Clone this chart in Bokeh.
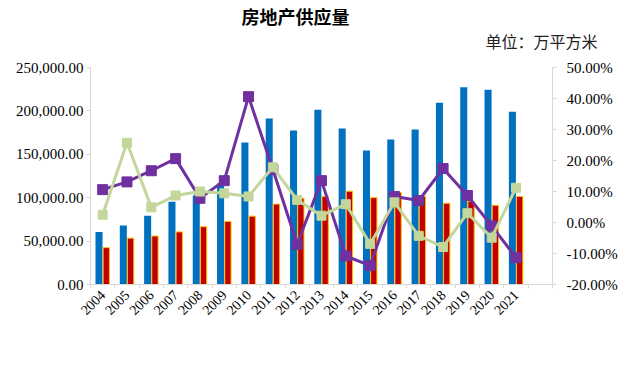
import math
from bokeh.plotting import figure
from bokeh.models import (Range1d, LinearAxis, FixedTicker, NumeralTickFormatter,
                          PrintfTickFormatter, ColumnDataSource, Legend, LegendItem, Title)
from bokeh.embed import file_html
from bokeh.resources import INLINE

years = ["2004", "2005", "2006", "2007", "2008", "2009", "2010", "2011", "2012",
         "2013", "2014", "2015", "2016", "2017", "2018", "2019", "2020", "2021"]
new_area = [60414, 68064, 79253, 95402, 102553, 116422, 163647, 191237, 177334,
            201208, 179592, 154454, 166928, 178654, 209342, 227154, 224433, 198895]
done_area = [42465, 53417, 55831, 60607, 66545, 72677, 78744, 92620, 99425,
             101435, 107459, 100039, 106128, 101486, 93550, 95942, 91218, 101412]
new_growth = [10.6, 13.1, 16.7, 20.6, 7.8, 13.5, 40.6, 17.1, -7.0,
              13.5, -10.8, -13.9, 8.4, 7.1, 17.4, 8.7, -1.1, -11.3]
done_growth = [2.5, 25.7, 4.9, 8.7, 10.0, 9.4, 8.4, 17.8, 7.3,
               2.2, 5.9, -6.9, 6.5, -4.3, -7.9, 3.0, -4.9, 11.2]
left_ticks = [0, 50000, 100000, 150000, 200000, 250000]
right_ticks = [-20, -10, 0, 10, 20, 30, 40, 50]

n_slots = len(years) + 1
centers = [i + 0.5 for i in range(len(years))]

src = ColumnDataSource(dict(
    xb=[c - 0.15 for c in centers], xr=[c + 0.15 for c in centers], xc=centers,
    new_area=new_area, done_area=done_area, new_growth=new_growth, done_growth=done_growth))

AX = "#D9D9D9"
NUM_FONT = "Liberation Serif"
CJK = "Noto Sans CJK SC"
BLUE, RED, GOLD, PURPLE, GREEN = "#0070C0", "#C00000", "#FFC000", "#7030A0", "#C3D69B"

p = figure(frame_width=462, frame_height=217, output_backend="svg", toolbar_location=None,
           x_range=Range1d(0, n_slots), y_range=Range1d(left_ticks[0], left_ticks[-1]),
           min_border_left=90, min_border_right=72, min_border_top=67, min_border_bottom=81)
p.outline_line_color = None
p.grid.visible = False
p.background_fill_color = "white"
p.border_fill_color = "white"

p.extra_y_ranges = {"pct": Range1d(right_ticks[0], right_ticks[-1])}

# axes
xa = p.xaxis[0]
xa.ticker = FixedTicker(ticks=centers, minor_ticks=list(range(n_slots + 1)))
xa.major_label_overrides = {c: y for c, y in zip(centers, years)}
xa.major_label_orientation = math.pi / 4
xa.major_tick_out = 0
xa.major_tick_in = 0
xa.minor_tick_out = 4
xa.minor_tick_in = 0
xa.minor_tick_line_color = AX
xa.axis_line_color = AX
xa.major_label_text_font = NUM_FONT
xa.major_label_text_font_size = "14px"
xa.major_label_text_color = "black"
xa.major_label_standoff = 4

ya = p.yaxis[0]
ya.ticker = FixedTicker(ticks=left_ticks)
ya.formatter = NumeralTickFormatter(format="0,0.00")
ya.axis_line_color = AX
ya.major_tick_line_color = AX
ya.major_tick_out = 4
ya.major_tick_in = 0
ya.minor_tick_line_color = None
ya.major_label_text_font = NUM_FONT
ya.major_label_text_font_size = "15px"
ya.major_label_text_color = "black"
ya.major_label_standoff = 3

ra = LinearAxis(y_range_name="pct", ticker=FixedTicker(ticks=right_ticks),
                formatter=PrintfTickFormatter(format="%.2f%%"))
ra.axis_line_color = AX
ra.major_tick_line_color = AX
ra.major_tick_out = 4
ra.major_tick_in = 0
ra.minor_tick_line_color = None
ra.major_label_text_font = NUM_FONT
ra.major_label_text_font_size = "15px"
ra.major_label_text_color = "black"
ra.major_label_standoff = 10
p.add_layout(ra, "right")

# bars
b1 = p.vbar(x="xb", top="new_area", bottom=0, width=0.29, source=src,
            fill_color=BLUE, line_color=None)
b2 = p.vbar(x="xr", top="done_area", bottom=0, width=0.26, source=src,
            fill_color=RED, line_color=GOLD, line_width=1)

# lines
l1 = p.line(x="xc", y="new_growth", source=src, y_range_name="pct",
            line_color=PURPLE, line_width=3)
m1 = p.scatter(x="xc", y="new_growth", source=src, y_range_name="pct", marker="square",
               size=10, fill_color=PURPLE, line_color=PURPLE)
l2 = p.line(x="xc", y="done_growth", source=src, y_range_name="pct",
            line_color=GREEN, line_width=3)
m2 = p.scatter(x="xc", y="done_growth", source=src, y_range_name="pct", marker="square",
               size=9, fill_color=GREEN, line_color=GREEN)

# legend-only swatches (no data, nothing drawn in the plot)
empty = ColumnDataSource(dict(x=[], y=[]))
sw_blue = p.line(x="x", y="y", source=empty, line_color=BLUE, line_width=8)
sw_gold = p.line(x="x", y="y", source=empty, line_color=GOLD, line_width=9)
sw_red = p.line(x="x", y="y", source=empty, line_color=RED, line_width=6)

legend = Legend(items=[
    LegendItem(label="房屋新开工面积", renderers=[sw_blue]),
    LegendItem(label="房屋竣工面积", renderers=[sw_gold, sw_red]),
    LegendItem(label="新开工面积增速", renderers=[l1, m1]),
    LegendItem(label="竣工面积增速", renderers=[l2, m2]),
], orientation="horizontal", location="top_center")
legend.border_line_color = None
legend.background_fill_alpha = 0
legend.padding = 0
legend.margin = -20
legend.spacing = 10
legend.glyph_width = 30
legend.glyph_height = 20
legend.label_standoff = 3
legend.label_height = 16
legend.label_text_font = CJK
legend.label_text_font_size = "15px"
legend.label_text_color = "#222222"
p.add_layout(legend, "below")

spacer = Title(text=" ", text_font_size="1px", standoff=10)
unit = Title(text="单位：万平方米", align="right", offset=-45, standoff=0,
             vertical_align="top",
             text_font=CJK, text_font_size="16px", text_font_style="normal",
             text_color="#222222")
title = Title(text="房地产供应量", align="left", offset=151, standoff=0,
              text_font=CJK, text_font_size="18px", text_font_style="bold",
              text_color="black")
p.add_layout(spacer, "above")
p.add_layout(unit, "above")
p.add_layout(title, "above")

open("out.html", "w").write(file_html(p, INLINE))
